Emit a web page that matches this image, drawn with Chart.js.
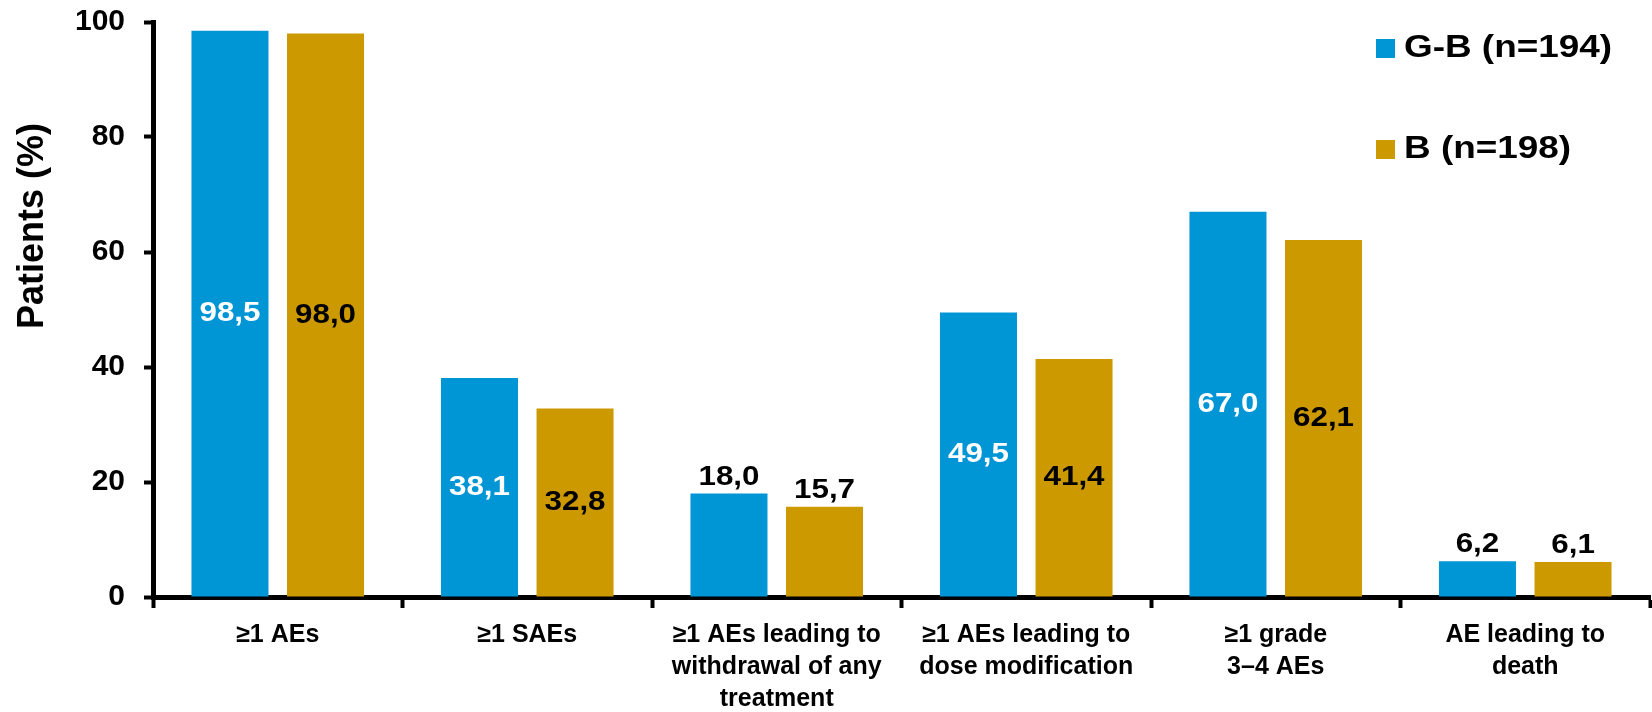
<!DOCTYPE html>
<html>
<head>
<meta charset="utf-8">
<script src="https://cdn.jsdelivr.net/npm/chart.js@4.4.1/dist/chart.umd.min.js"></script>
<style>
  body { margin: 0; background: #fff; }
  canvas { display: block; }
</style>
</head>
<body>
<canvas id="aeChart" width="1652" height="712"></canvas>
<script>
const categories = [
  "≥1 AEs",
  "≥1 SAEs",
  ["≥1 AEs leading to", "withdrawal of any", "treatment"],
  ["≥1 AEs leading to", "dose modification"],
  ["≥1 grade", "3–4 AEs"],
  ["AE leading to", "death"]
];
const gbValues = [98.5, 38.1, 18.0, 49.5, 67.0, 6.2];
const bValues = [98.0, 32.8, 15.7, 41.4, 62.1, 6.1];
const seriesNames = ["G-B (n=194)", "B (n=198)"];
const yTicks = [0, 20, 40, 60, 80, 100];

const FONT = '"Liberation Sans", Arial, sans-serif';
const BLUE = "#0095D5";
const GOLD = "#CC9A00";

// value labels: inside the bar when tall enough, otherwise on top
const valueLabels = {
  id: "valueLabels",
  afterDatasetsDraw(chart) {
    const ctx = chart.ctx;
    ctx.save();
    ctx.font = "bold 28px " + FONT;
    ctx.textAlign = "center";
    chart.data.datasets.forEach((ds, di) => {
      chart.getDatasetMeta(di).data.forEach((bar, i) => {
        const v = ds.data[i];
        const txt = v.toFixed(1).replace(".", ",");
        let y;
        if (v > 30) {
          ctx.fillStyle = di === 0 ? "#fff" : "#000";
          ctx.textBaseline = "middle";
          y = (bar.y + bar.base) / 2;
        } else {
          ctx.fillStyle = "#000";
          ctx.textBaseline = "alphabetic";
          y = bar.y - 9;
        }
        ctx.save();
        ctx.translate(bar.x, y);
        ctx.scale(1.12, 1);
        ctx.fillText(txt, 0, 0);
        ctx.restore();
      });
    });
    ctx.restore();
  }
};

// square markers + series names, top right
const sideLegend = {
  id: "sideLegend",
  afterDraw(chart) {
    const ctx = chart.ctx;
    const rows = [48.5, 149.5];
    ctx.save();
    ctx.font = "bold 31px " + FONT;
    ctx.textBaseline = "middle";
    ctx.textAlign = "left";
    chart.data.datasets.forEach((ds, i) => {
      ctx.fillStyle = ds.backgroundColor;
      ctx.fillRect(1376, rows[i] - 9.5, 19, 19);
      ctx.fillStyle = "#000";
      ctx.save();
      ctx.translate(1404, rows[i]);
      ctx.scale(1.19, 1);
      ctx.fillText(ds.label, 0, 0);
      ctx.restore();
    });
    ctx.restore();
  }
};

// rotated axis title
const yTitle = {
  id: "yTitle",
  afterDraw(chart) {
    const ctx = chart.ctx;
    ctx.save();
    ctx.translate(33, 226);
    ctx.rotate(-Math.PI / 2);
    ctx.font = "bold 36px " + FONT;
    ctx.fillStyle = "#000";
    ctx.textAlign = "center";
    ctx.textBaseline = "middle";
    ctx.fillText("Patients (%)", 0, 0);
    ctx.restore();
  }
};

new Chart(document.getElementById("aeChart"), {
  type: "bar",
  data: {
    labels: categories,
    datasets: [
      { label: seriesNames[0], data: gbValues, backgroundColor: BLUE },
      { label: seriesNames[1], data: bValues, backgroundColor: GOLD }
    ]
  },
  options: {
    responsive: false,
    animation: false,
    categoryPercentage: 0.766,
    barPercentage: 0.806,
    layout: { padding: { top: 22, right: 2, left: 0, bottom: 0 } },
    plugins: {
      legend: { display: false },
      tooltip: { enabled: false }
    },
    scales: {
      x: {
        afterFit(scale) {
          scale.height = 115;
          scale.paddingLeft = 0;
          scale.paddingRight = 0;
        },
        border: { display: true, color: "#000", width: 5 },
        grid: {
          offset: true,
          drawOnChartArea: false,
          tickLength: 11,
          tickWidth: 4,
          tickColor: "#000"
        },
        ticks: {
          color: "#000",
          padding: 11,
          maxRotation: 0,
          autoSkip: false,
          font: { family: FONT, size: 25, weight: "bold", lineHeight: 1.28 }
        }
      },
      y: {
        min: 0,
        max: 100,
        afterFit(scale) {
          scale.width = 153;
          scale.paddingTop = 0;
          scale.paddingBottom = 0;
        },
        afterBuildTicks(scale) { scale.ticks = yTicks.map(v => ({ value: v })); },
        border: { display: true, color: "#000", width: 5 },
        grid: {
          drawOnChartArea: false,
          tickLength: 9,
          tickWidth: 4,
          tickColor: "#000"
        },
        ticks: {
          color: "#000",
          padding: 19,
          font: { family: FONT, size: 30, weight: "bold" }
        }
      }
    }
  },
  plugins: [valueLabels, sideLegend, yTitle]
});
</script>
</body>
</html>
